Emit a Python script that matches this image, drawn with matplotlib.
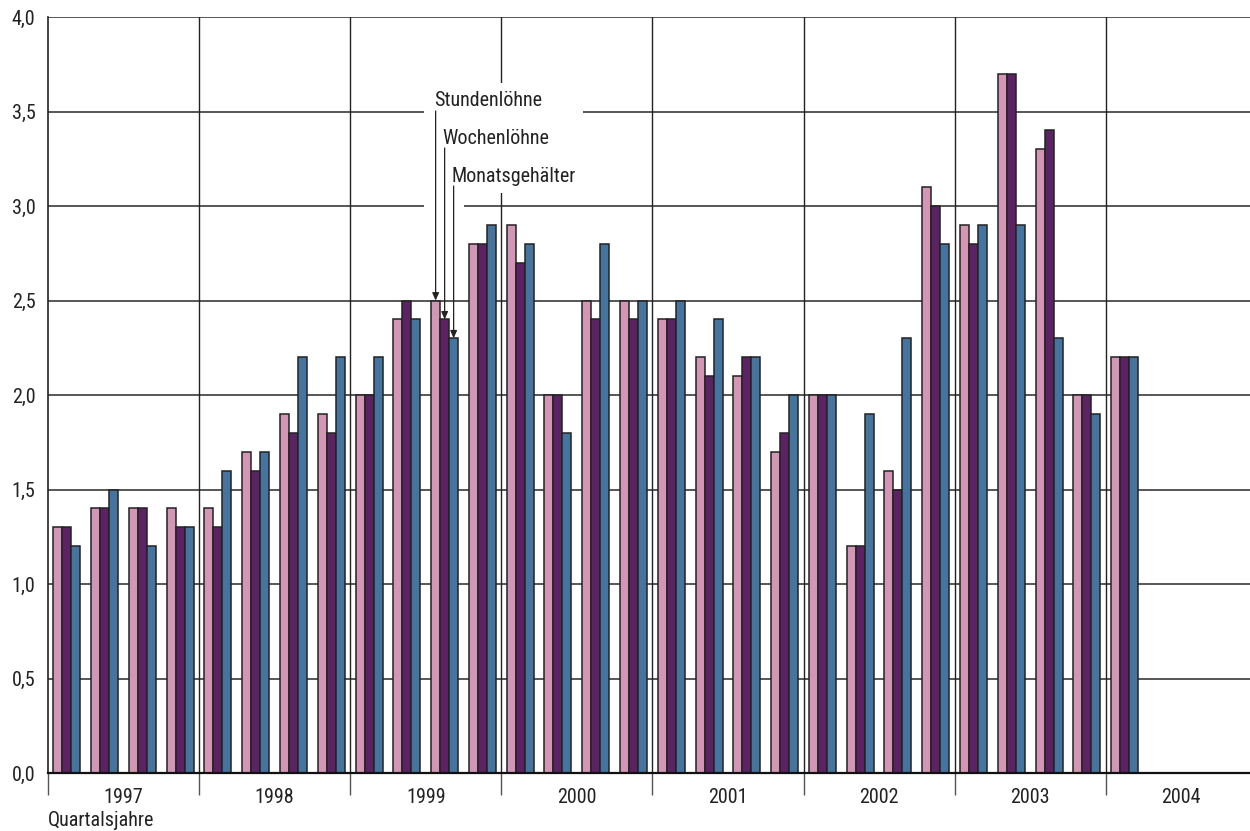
import matplotlib
matplotlib.use("Agg")
import matplotlib.pyplot as plt
from matplotlib.patches import Rectangle
import numpy as np
from matplotlib import font_manager

years = ["1997", "1998", "1999", "2000", "2001", "2002", "2003", "2004"]
series_names = ["Stundenlöhne", "Wochenlöhne", "Monatsgehälter"]
stundenloehne = [1.3, 1.4, 1.4, 1.4,  1.4, 1.7, 1.9, 1.9,  2.0, 2.4, 2.5, 2.8,
                 2.9, 2.0, 2.5, 2.5,  2.4, 2.2, 2.1, 1.7,  2.0, 1.2, 1.6, 3.1,
                 2.9, 3.7, 3.3, 2.0,  2.2, 0.0, 0.0, 0.0]
wochenloehne = [1.3, 1.4, 1.4, 1.3,  1.3, 1.6, 1.8, 1.8,  2.0, 2.5, 2.4, 2.8,
                2.7, 2.0, 2.4, 2.4,  2.4, 2.1, 2.2, 1.8,  2.0, 1.2, 1.5, 3.0,
                2.8, 3.7, 3.4, 2.0,  2.2, 0.0, 0.0, 0.0]
monatsgehaelter = [1.2, 1.5, 1.2, 1.3,  1.6, 1.7, 2.2, 2.2,  2.2, 2.4, 2.3, 2.9,
                   2.8, 1.8, 2.8, 2.5,  2.5, 2.4, 2.2, 2.0,  2.0, 1.9, 2.3, 2.8,
                   2.9, 2.9, 2.3, 1.9,  2.2, 0.0, 0.0, 0.0]
y_ticks = [0.0, 0.5, 1.0, 1.5, 2.0, 2.5, 3.0, 3.5, 4.0]

colors = ["#D397B5", "#5B2363", "#45759F"]

avail = {f.name for f in font_manager.fontManager.ttflist}
fam = "DejaVu Sans"
for cand in ["Roboto Condensed", "Archivo Narrow", "Liberation Sans Narrow",
             "PT Sans Narrow", "IBM Plex Sans Condensed", "Liberation Sans"]:
    if cand in avail:
        fam = cand
        break
plt.rcParams["font.family"] = [fam, "DejaVu Sans"]
FS = 14.5
TXT = "#222222"

W, H = 1250, 831
fig = plt.figure(figsize=(W / 100, H / 100), dpi=100)
left_px, right_px, top_px, bot_px = 48, 1250, 17, 773
ax = fig.add_axes([left_px / W, 1 - bot_px / H, (right_px - left_px) / W, (bot_px - top_px) / H])

q_px = 151.1 / 4
xmax = (right_px - left_px) / q_px
ax.set_xlim(0, xmax)
ax.set_ylim(0, 4.0)

def px2x(px):
    return (px - left_px) / q_px

def py2y(py):
    return (bot_px - py) / ((bot_px - top_px) / 4.0)

n = len(stundenloehne)
centers = np.arange(n) + 0.5
bw = 9 / q_px
data = [stundenloehne, wochenloehne, monatsgehaelter]
for i, (vals, c) in enumerate(zip(data, colors)):
    ax.bar(centers + (i - 1) * bw, vals, width=bw, color=c, edgecolor="#222222",
           linewidth=1.1, zorder=3)

# gridlines
for yv in y_ticks:
    ax.axhline(yv, color="#3a3a3a", linewidth=1.2, zorder=1)
for k in range(1, len(years)):
    ax.axvline(4 * k, color="#222222", linewidth=1.0, zorder=1)

# white background behind annotation block
ax.add_patch(Rectangle((px2x(424), py2y(193)), px2x(583) - px2x(424), py2y(83) - py2y(193),
                       facecolor="white", edgecolor="none", zorder=2))
ax.add_patch(Rectangle((px2x(424), py2y(216)), px2x(464) - px2x(424), py2y(190) - py2y(216),
                       facecolor="white", edgecolor="none", zorder=2))

# annotations pointing to 1999 Q3
qi = 10
label_tail = [py2y(111), py2y(148), py2y(186)]
label_text_y = [py2y(101), py2y(138), py2y(176)]
for i, name in enumerate(series_names):
    bx = centers[qi] + (i - 1) * bw
    ax.annotate("", xy=(bx, data[i][qi]), xytext=(bx, label_tail[i]),
                arrowprops=dict(arrowstyle="-|>,head_length=0.45,head_width=0.2",
                                color="#222222", lw=0.9, shrinkA=0, shrinkB=0),
                zorder=4)
    ax.text(bx - 0.05, label_text_y[i], name, ha="left", va="center",
            fontsize=FS, color=TXT, zorder=5)

# axes styling
for s in ["top", "right"]:
    ax.spines[s].set_visible(False)
ax.spines["left"].set_color("#222222")
ax.spines["left"].set_linewidth(1.2)
ax.spines["bottom"].set_color("#111111")
ax.spines["bottom"].set_linewidth(1.6)
ax.spines["bottom"].set_zorder(4)

ax.set_yticks(y_ticks)
ax.set_yticklabels([f"{v:.1f}".replace(".", ",") for v in y_ticks])
ax.tick_params(axis="y", length=0, pad=9, labelsize=FS, labelcolor=TXT)

ax.set_xticks([4 * k for k in range(len(years))])
ax.set_xticklabels([])
ax.tick_params(axis="x", which="major", length=16, width=1.0, color="#555555")
ax.set_xticks([4 * k + 2 for k in range(len(years))], minor=True)
ax.set_xticklabels(years, minor=True)
ax.tick_params(axis="x", which="minor", length=0, pad=11, labelsize=FS, labelcolor=TXT)

fig.text(left_px / W, 1 - 820 / H, "Quartalsjahre", ha="left", va="center",
         fontsize=FS, color=TXT)

fig.savefig("out.png", dpi=100)
